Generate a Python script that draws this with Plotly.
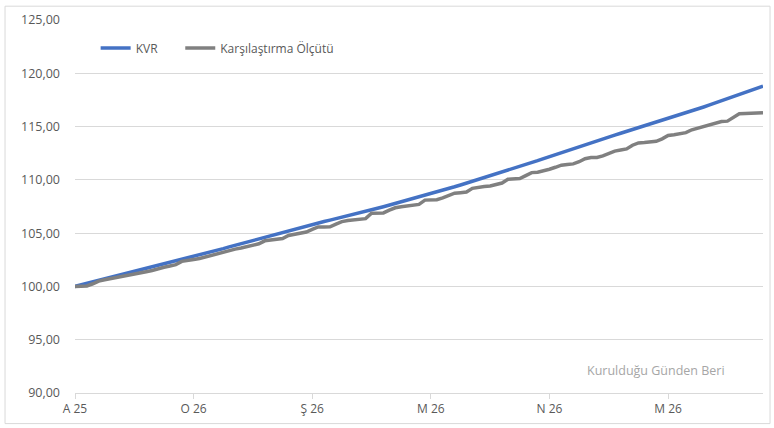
import plotly.graph_objects as go

kvr = [100.00, 100.14, 100.28, 100.42, 100.56, 100.70, 100.83, 100.97, 101.11, 101.25,
       101.39, 101.53, 101.67, 101.81, 101.95, 102.09, 102.22, 102.36, 102.50, 102.64,
       102.78, 102.93, 103.09, 103.24, 103.40, 103.55, 103.71, 103.86, 104.02, 104.17,
       104.33, 104.52, 104.67, 104.81, 104.96, 105.11, 105.25, 105.40, 105.54, 105.69,
       105.83, 105.96, 106.09, 106.22, 106.35, 106.48, 106.61, 106.74, 106.87, 107.02,
       107.17, 107.33, 107.48, 107.63, 107.78, 107.93, 108.09, 108.24, 108.39, 108.54,
       108.69, 108.86, 109.02, 109.19, 109.35, 109.52, 109.69, 109.85, 110.02, 110.20,
       110.38, 110.55, 110.73, 110.91, 111.09, 111.27, 111.45, 111.62, 111.80, 111.99,
       112.18, 112.36, 112.55, 112.74, 112.92, 113.11, 113.30, 113.49, 113.67, 113.85,
       114.02, 114.19, 114.37, 114.54, 114.72, 114.89, 115.06, 115.24, 115.41, 115.59,
       115.76, 115.94, 116.12, 116.29, 116.47, 116.65, 116.84, 117.03, 117.22, 117.42,
       117.61, 117.80, 117.99, 118.18, 118.38, 118.57, 118.80]

benchmark = [100.00, 100.00, 100.05, 100.25, 100.50, 100.62, 100.72, 100.85, 101.00, 101.10,
             101.20, 101.28, 101.38, 101.50, 101.68, 101.80, 101.92, 102.05, 102.35, 102.47,
             102.53, 102.62, 102.78, 102.90, 103.05, 103.18, 103.35, 103.50, 103.60, 103.71,
             103.85, 104.00, 104.28, 104.35, 104.40, 104.50, 104.78, 104.88, 105.03, 105.10,
             105.35, 105.58, 105.58, 105.60, 105.85, 106.08, 106.18, 106.25, 106.30, 106.36,
             106.86, 106.88, 106.90, 107.15, 107.38, 107.48, 107.56, 107.60, 107.70, 108.10,
             108.12, 108.13, 108.30, 108.50, 108.75, 108.80, 108.86, 109.20, 109.32, 109.37,
             109.42, 109.52, 109.70, 110.05, 110.08, 110.12, 110.40, 110.68, 110.72, 110.82,
             111.00, 111.18, 111.38, 111.45, 111.50, 111.70, 111.98, 112.10, 112.10, 112.25,
             112.52, 112.70, 112.80, 112.90, 113.25, 113.47, 113.50, 113.52, 113.62, 113.85,
             114.16, 114.24, 114.32, 114.43, 114.70, 114.85, 115.00, 115.13, 115.28, 115.47,
             115.51, 115.90, 116.20, 116.22, 116.25, 116.28, 116.30]

tick_positions = [0, 20, 40, 60, 80, 100]
tick_labels = ["A 25", "O 26", "Ş 26", "M 26", "N 26", "M 26"]
series_names = ["KVR", "Karşılaştırma Ölçütü"]

idx = list(range(len(kvr)))
FONT = "Open Sans"

fig = go.Figure()
fig.add_trace(go.Scatter(x=idx, y=kvr, mode="lines", name=series_names[0],
                         line=dict(color="#4472C4", width=3.5), legend="legend"))
fig.add_trace(go.Scatter(x=idx, y=benchmark, mode="lines", name=series_names[1],
                         line=dict(color="#808080", width=3.5), legend="legend2"))

legend_common = dict(orientation="h", y=0.925, xanchor="left", yanchor="middle",
                     font=dict(size=12, color="#595959"), bgcolor="rgba(0,0,0,0)",
                     itemwidth=30)

fig.update_layout(
    width=774, height=428,
    margin=dict(l=75, r=11, t=16, b=34),
    paper_bgcolor="white", plot_bgcolor="white",
    separators=",.",
    font=dict(family=FONT, size=12, color="#595959"),
    showlegend=True,
    legend=dict(x=0.03, **legend_common),
    legend2=dict(x=0.153, **legend_common),
    xaxis=dict(range=[0, len(kvr) - 1], tickmode="array", tickvals=tick_positions,
               ticktext=tick_labels, showgrid=False, zeroline=False,
               showline=True, linecolor="#d9d9d9", linewidth=1,
               ticks="outside", ticklen=5, tickcolor="#d9d9d9",
               tickfont=dict(size=12, color="#595959")),
    yaxis=dict(range=[90, 125], dtick=5, tick0=90, tickformat=".2f",
               showgrid=True, gridcolor="#d9d9d9", gridwidth=1, zeroline=False,
               showline=False, ticks="", ticklabelstandoff=14,
               tickfont=dict(size=12.5, color="#595959")),
    annotations=[dict(text="Kurulduğu Günden Beri", xref="paper", yref="paper",
                      x=0.948, y=0.061, xanchor="right", yanchor="middle",
                      showarrow=False, font=dict(size=12.5, color="#a6a6a6"))],
    shapes=[dict(type="rect", xref="paper", yref="paper",
                 x0=-0.1017, x1=1.0102, y0=-0.082, y1=1.037,
                 line=dict(color="#d9d9d9", width=1), fillcolor="rgba(0,0,0,0)",
                 layer="below")],
)

fig.write_html("out.html", config={"displayModeBar": False},
               post_script="document.body.style.margin='0px';document.body.style.overflow='hidden';")
